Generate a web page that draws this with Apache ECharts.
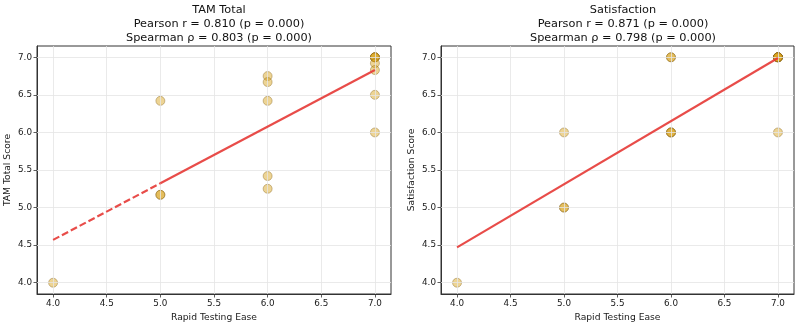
<!DOCTYPE html>
<html>
<head>
<meta charset="utf-8">
<script src="https://cdn.jsdelivr.net/npm/echarts@6/dist/echarts.min.js"></script>
<style>html,body{margin:0;padding:0;background:#fff}#c{width:800px;height:327px}</style>
</head>
<body>
<div id="c"></div>
<script>
// ---- data ----
const tickValues = [4.0, 4.5, 5.0, 5.5, 6.0, 6.5, 7.0];
const tamX = [4, 5, 5, 5, 6, 6, 6, 6, 6, 7, 7, 7, 7, 7, 7, 7, 7];
const tamY = [4.0, 6.42, 5.17, 5.17, 6.75, 6.67, 6.42, 5.42, 5.25, 7.0, 7.0, 7.0, 7.0, 6.92, 6.83, 6.5, 6.0];
const satX = [4, 5, 5, 5, 6, 6, 6, 6, 6, 7, 7, 7, 7, 7, 7, 7, 7];
const satY = [4, 6, 5, 5, 7, 7, 6, 6, 6, 7, 7, 7, 7, 7, 7, 7, 6];
const tamFitDashX = [4, 5];
const tamFitDashY = [4.57, 5.323];
const tamFitSolidX = [5, 7];
const tamFitSolidY = [5.323, 6.83];
const satFitX = [4, 7];
const satFitY = [4.47, 6.99];
const titlesLeft = ['TAM Total', 'Pearson r = 0.810 (p = 0.000)', 'Spearman \u03c1 = 0.803 (p = 0.000)'];
const titlesRight = ['Satisfaction', 'Pearson r = 0.871 (p = 0.000)', 'Spearman \u03c1 = 0.798 (p = 0.000)'];
const xName = 'Rapid Testing Ease';
const yNames = ['TAM Total Score', 'Satisfaction Score'];

const FONT = 'DejaVu Sans';
const zip = (a, b) => a.map((v, i) => [v, b[i]]);

function xAxis(idx) {
  return {
    type: 'value', gridIndex: idx, min: 3.85, max: 7.15,
    name: xName, nameLocation: 'middle', nameGap: 18,
    nameTextStyle: { fontFamily: FONT, fontSize: 9.2, color: '#1a1a1a' },
    axisLine: { show: true, lineStyle: { color: '#333', width: 1 } },
    axisTick: { show: true, length: 3.5, customValues: tickValues, lineStyle: { color: '#333', width: 0.8 } },
    axisLabel: { customValues: tickValues, fontFamily: FONT, fontSize: 8.8, color: '#1a1a1a', margin: 5,
      formatter: v => v.toFixed(1) },
    splitLine: { show: false }
  };
}
function yAxis(idx) {
  return {
    type: 'value', gridIndex: idx, min: 3.85, max: 7.15,
    name: yNames[idx], nameLocation: 'middle', nameGap: 25, nameRotate: 90,
    nameTextStyle: { fontFamily: FONT, fontSize: 9.2, color: '#1a1a1a' },
    axisLine: { show: true, lineStyle: { color: '#333', width: 1 } },
    axisTick: { show: true, length: 3.5, customValues: tickValues, lineStyle: { color: '#333', width: 0.8 } },
    axisLabel: { customValues: tickValues, fontFamily: FONT, fontSize: 8.8, color: '#1a1a1a', margin: 5,
      formatter: v => v.toFixed(1) },
    splitLine: { show: false }
  };
}
function gridLines() {
  const d = [];
  tickValues.forEach(v => { d.push({ xAxis: v }); d.push({ yAxis: v }); });
  return { silent: true, symbol: 'none', label: { show: false },
    lineStyle: { color: '#e4e4e4', width: 0.8, type: 'solid' }, data: d };
}
const pointStyle = { color: 'rgba(218,165,32,0.6)', borderColor: 'rgba(125,90,15,0.6)', borderWidth: 0.8 };
const lineStyle = { color: '#e53935', width: 2.2, opacity: 0.9 };

function scatter(idx, x, y) {
  return { type: 'scatter', xAxisIndex: idx, yAxisIndex: idx, symbolSize: 9,
    data: zip(x, y), itemStyle: pointStyle, markLine: gridLines(), z: 2 };
}
function fit(idx, x, y, dashed) {
  return { type: 'line', xAxisIndex: idx, yAxisIndex: idx, data: zip(x, y), symbol: 'none',
    lineStyle: Object.assign({}, lineStyle, { type: dashed ? [7, 3] : 'solid' }), z: 5, silent: true };
}

const chart = echarts.init(document.getElementById('c'), null, { renderer: 'canvas' });
chart.setOption({
  animation: false,
  backgroundColor: '#fff',
  title: [
    { text: titlesLeft.join('\n'), left: 214, top: -2, textAlign: 'center',
      textStyle: { fontFamily: FONT, fontSize: 11.3, fontWeight: 'normal', color: '#111', lineHeight: 14 } },
    { text: titlesRight.join('\n'), left: 618, top: -2, textAlign: 'center',
      textStyle: { fontFamily: FONT, fontSize: 11.3, fontWeight: 'normal', color: '#111', lineHeight: 14 } }
  ],
  grid: [
    { left: 37, right: 409, top: 46, bottom: 33, show: true, borderColor: '#333', borderWidth: 1, containLabel: false },
    { left: 441, right: 6, top: 46, bottom: 33, show: true, borderColor: '#333', borderWidth: 1, containLabel: false }
  ],
  xAxis: [xAxis(0), xAxis(1)],
  yAxis: [yAxis(0), yAxis(1)],
  series: [
    scatter(0, tamX, tamY),
    fit(0, tamFitDashX, tamFitDashY, true),
    fit(0, tamFitSolidX, tamFitSolidY, false),
    scatter(1, satX, satY),
    fit(1, satFitX, satFitY, false)
  ]
});
</script>
</body>
</html>
